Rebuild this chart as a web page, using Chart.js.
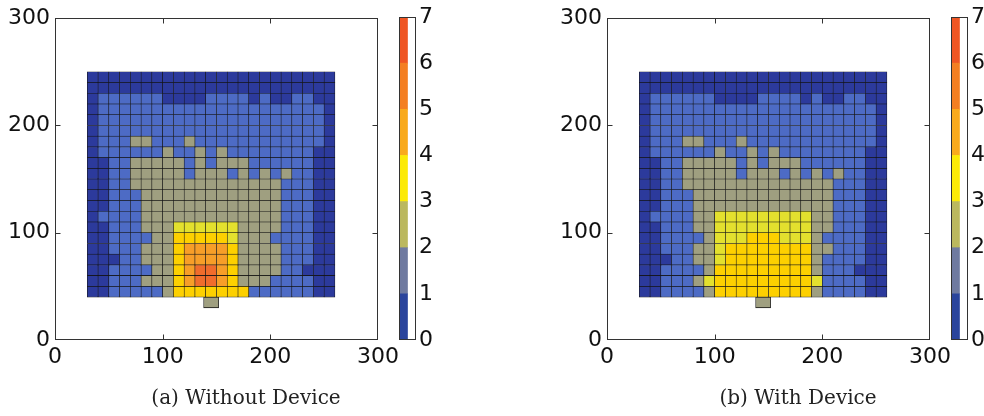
<!DOCTYPE html>
<html>
<head>
<meta charset="utf-8">
<title>Heat maps: without / with device</title>
<script src="https://cdn.jsdelivr.net/npm/chart.js@4.4.1/dist/chart.umd.min.js"></script>
<style>
  body { margin: 0; background: #fff; overflow: hidden; width: 984px; height: 416px; position: relative; }
  canvas { position: absolute; top: 0; }
</style>
</head>
<body>
<canvas id="panelA" width="492" height="416" style="left:0px"></canvas>
<canvas id="barA" width="60" height="416" style="left:399px"></canvas>
<canvas id="panelB" width="492" height="416" style="left:552px"></canvas>
<canvas id="barB" width="60" height="416" style="left:951px"></canvas>
<script>
// cell left edges (x) and bottom edges (y, top row first)
const gridX = [30, 40, 50, 60, 70, 80, 90, 100, 110, 120, 130, 140, 150, 160, 170, 180, 190, 200, 210, 220, 230, 240, 250];
const gridY = [240, 230, 220, 210, 200, 190, 180, 170, 160, 150, 140, 130, 120, 110, 100, 90, 80, 70, 60, 50, 40];
const cellSize = 10;

// the device footprint under the grid
const deviceX = [145];
const deviceY = [[30, 40]];
const deviceLevel = 2;

const axisTicks = [0, 100, 200, 300];
const colorbarTicks = [0, 1, 2, 3, 4, 5, 6, 7];

// level of every cell, one string per row, top row first
const withoutDevice = [
  "00000000000000000000000",
  "00000000000000000000000",
  "01111110000111101001100",
  "01111111111111111111110",
  "01111111111111111111110",
  "01111111111111111111110",
  "01112211121111111111110",
  "01111112112121111111100",
  "00112222212122211111100",
  "00112222212221212121100",
  "00112222222222222211100",
  "00111222222222222211100",
  "00111222222222222211100",
  "01111222222222222211100",
  "00111222333333222211100",
  "00111122444443222111100",
  "00111222455554222211100",
  "00011222455554222211100",
  "00111122456654222211000",
  "00111222456654222111100",
  "00111112444444411111100"
];

const withDevice = [
  "00000000000000000000000",
  "00000000000000000000000",
  "01111110000111101001100",
  "01111111111111111111110",
  "01111111111111111111110",
  "01111111111111111111110",
  "01112211121111111111110",
  "01111112112121111111100",
  "00112222212122211111100",
  "00112222212221212121100",
  "00112222222222222211100",
  "00111222222222222211100",
  "00111222222222222211100",
  "01111223333333332211100",
  "00111223333333332211100",
  "00111123334443332111100",
  "00111223444444442211100",
  "00011223444444442111100",
  "00111124444444442111000",
  "00111234444444443111100",
  "00111124444444442111100"
];

const levelColors = ["#2c3a9c", "#4d6bc5", "#9f9f80", "#e3e02e", "#fdd000", "#f79e28", "#f06c2c"];
const colorbarColors = ["#2a449c", "#6f7aa0", "#bbb85e", "#fcea06", "#f9aa1c", "#f47f22", "#ef5624"];

Chart.defaults.font.family = "'DejaVu Sans', sans-serif";
Chart.defaults.font.size = 22;
Chart.defaults.color = "#111";
Chart.defaults.animation = false;

// box round the plot plus matplotlib style inward ticks
const framePlugin = {
  id: "frame",
  afterDatasetsDraw(chart, args, opts) {
    const { ctx, chartArea: a, scales } = chart;
    const l = Math.round(a.left) + 0.5, r = Math.round(a.right) - 0.5;
    const t = Math.round(a.top) + 0.5, b = Math.round(a.bottom) - 0.5;
    ctx.save();
    ctx.strokeStyle = "#333";
    ctx.lineWidth = 1;
    ctx.strokeRect(l, t, r - l, b - t);
    if (opts.ticks) {
      ctx.beginPath();
      axisTicks.slice(1, -1).forEach(v => {
        const px = Math.round(scales.x.getPixelForValue(v)) + 0.5;
        ctx.moveTo(px, b); ctx.lineTo(px, b - 5);
        ctx.moveTo(px, t); ctx.lineTo(px, t + 5);
        const py = Math.round(scales.y.getPixelForValue(v)) + 0.5;
        ctx.moveTo(l, py); ctx.lineTo(l + 5, py);
        ctx.moveTo(r, py); ctx.lineTo(r - 5, py);
      });
      ctx.stroke();
    }
    ctx.restore();
  }
};

function makePanel(id, rows, caption) {
  const cells = [];
  const colors = [];
  rows.forEach((row, r) => {
    [...row].forEach((lvl, c) => {
      cells.push({ x: gridX[c] + cellSize / 2, y: [gridY[r], gridY[r] + cellSize] });
      colors.push(levelColors[+lvl]);
    });
  });
  const device = deviceX.map((x, i) => ({ x: x, y: deviceY[i] }));

  new Chart(document.getElementById(id), {
    type: "bar",
    data: {
      datasets: [
        {
          data: cells,
          backgroundColor: colors,
          borderColor: "#151515",
          borderWidth: 0.6,
          borderSkipped: false,
          barPercentage: 1,
          categoryPercentage: 1,
          grouped: false
        },
        {
          data: device,
          backgroundColor: levelColors[deviceLevel],
          borderColor: "#151515",
          borderWidth: 0.8,
          borderSkipped: false,
          barThickness: 15,
          grouped: false
        }
      ]
    },
    options: {
      responsive: false,
      layout: { padding: { top: 17, right: 0, left: 0, bottom: 0 } },
      plugins: {
        legend: { display: false },
        tooltip: { enabled: false },
        title: {
          display: true,
          position: "bottom",
          text: caption,
          color: "#222",
          font: { family: "'DejaVu Serif', serif", size: 20, weight: "normal", lineHeight: 1.2 },
          padding: { top: 0, bottom: 5 }
        },
        frame: { ticks: true }
      },
      scales: {
        x: {
          type: "linear",
          min: 0,
          max: 300,
          offset: false,
          afterBuildTicks: s => { s.ticks = axisTicks.map(v => ({ value: v })); },
          afterFit: s => { s.height = 47; },
          ticks: { padding: 4, maxRotation: 0 },
          grid: { display: false, drawTicks: false },
          border: { display: false }
        },
        y: {
          type: "linear",
          min: 0,
          max: 300,
          stacked: false,
          afterBuildTicks: s => { s.ticks = axisTicks.map(v => ({ value: v })); },
          afterFit: s => { s.width = 55; },
          ticks: { padding: 5 },
          grid: { display: false, drawTicks: false },
          border: { display: false }
        },
        // empty axis that keeps room for the colorbar on the right
        yRoom: {
          type: "linear",
          position: "right",
          min: 0,
          max: 300,
          afterFit: s => { s.width = 114; },
          ticks: { display: false },
          grid: { display: false, drawTicks: false },
          border: { display: false }
        }
      }
    },
    plugins: [framePlugin]
  });
}

function makeColorbar(id) {
  new Chart(document.getElementById(id), {
    type: "bar",
    data: {
      labels: [""],
      datasets: colorbarColors.map(c => ({
        data: [1],
        backgroundColor: c,
        borderWidth: 0,
        barPercentage: 1,
        categoryPercentage: 1
      }))
    },
    options: {
      responsive: false,
      layout: { padding: { top: 17, right: 0, left: 0, bottom: 76 } },
      plugins: {
        legend: { display: false },
        tooltip: { enabled: false },
        frame: { ticks: false }
      },
      scales: {
        x: { display: false, stacked: true, offset: false },
        y: {
          position: "right",
          stacked: true,
          min: 0,
          max: 7,
          afterBuildTicks: s => { s.ticks = colorbarTicks.map(v => ({ value: v })); },
          afterFit: s => { s.width = 43; },
          ticks: { padding: 3 },
          grid: { display: false, drawTicks: false },
          border: { display: false }
        }
      }
    },
    plugins: [framePlugin]
  });
}

makePanel("panelA", withoutDevice, "(a) Without Device");
makeColorbar("barA");
makePanel("panelB", withDevice, "(b) With Device");
makeColorbar("barB");
</script>
</body>
</html>
